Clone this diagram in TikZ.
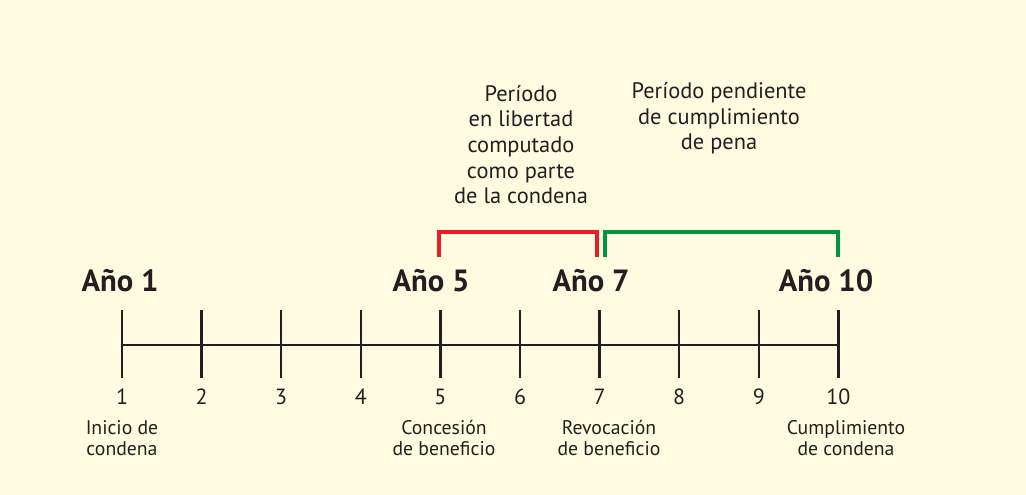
\documentclass[tikz,border=0pt]{standalone}
\usepackage{fontspec}
\setmainfont{PT Sans}
\usepackage{xcolor}
\usepackage{tikz}
\usetikzlibrary{positioning}
\definecolor{fondo}{HTML}{FFFBE1}
\definecolor{rojo}{HTML}{ED1C24}
\definecolor{verde}{HTML}{00963F}
\definecolor{tinta}{HTML}{231F20}

\begin{document}
\begin{tikzpicture}
	[x=0.75pt,y=-0.75pt,inner sep=0pt,
	tick/.style={line width=1.9pt,draw=tinta},
	anio/.style={font=\bfseries\fontsize{23}{26}\selectfont,text=tinta},
	num/.style={font=\fontsize{16.5}{18}\selectfont,text=tinta},
	evento/.style={align=center,font=\fontsize{14.8}{15.75}\selectfont,text=tinta},
	periodo/.style={align=center,font=\fontsize{16.8}{19.2}\selectfont,text=tinta},
	llave/.style={line width=2.3pt}]
	\fill[fondo] (0,0) rectangle (1026,495);
	% eje de tiempo
	\foreach \i in {1,...,10} {
		\coordinate (arriba\i) at ({122+79.6*(\i-1)},310);
		\coordinate (abajo\i) at ({122+79.6*(\i-1)},378);
		\coordinate (eje\i) at ({122+79.6*(\i-1)},345);
		\draw[tick] (arriba\i) -- (abajo\i);
		\node [num] (n\i) at ({122+79.6*(\i-1)},397) {\i};
	}
	\draw[tick] (eje1) -- (eje10);
	% anios
	\node [anio] (A1) at (120,281) {Año 1};
	\node [anio] (A5) at (431,281) {Año 5};
	\node [anio] (A7) at (591,281) {Año 7};
	\node [anio] (A10) at (826,281) {Año 10};
	% eventos
	\node [evento] (inicio) at (122,438.5) {Inicio de\\condena};
	\node [evento] (concesion) at (444,438.5) {Concesión\\de beneficio};
	\node [evento] (revocacion) at (609,438.5) {Revocación\\de beneficio};
	\node [evento] (cumplimiento) at (846,438.5) {Cumplimiento\\de condena};
	% periodos
	\coordinate (r1) at (439,257);
	\coordinate (r2) at (439,232);
	\coordinate (r3) at (597,232);
	\coordinate (r4) at (597,257);
	\coordinate (v1) at (605,257);
	\coordinate (v2) at (605,232);
	\coordinate (v3) at (838,232);
	\coordinate (v4) at (838,257);
	\draw[llave,rojo] (r1) -- (r2) -- (r3) -- (r4);
	\draw[llave,verde] (v1) -- (v2) -- (v3) -- (v4);
	\node [periodo] (libertad) at (521,144.5) {Período\\en libertad\\computado\\como parte\\de la condena};
	\node [periodo] (pendiente) at (719,118.5) {Período pendiente\\de cumplimiento\\de pena};
\end{tikzpicture}
\end{document}
